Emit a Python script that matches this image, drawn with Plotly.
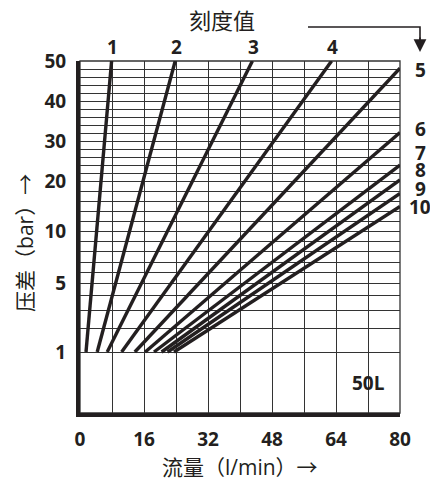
import numpy as np
import plotly.graph_objects as go

# ---- data ----
series_names = ["1", "2", "3", "4", "5", "6", "7", "8", "9", "10"]
start_flow = [1.5, 4.3, 6.8, 10.4, 13.7, 16.3, 18.5, 20.4, 21.9, 23.5]
start_bar = [1, 1, 1, 1, 1, 1, 1, 1, 1, 1]
end_flow = [7.9, 23.8, 43.1, 62.9, 80, 80, 80, 80, 80, 80]
end_bar = [50, 50, 50, 50, 48.2, 32.1, 24.0, 20.3, 17.5, 14.9]

x_tick_vals = [0, 8, 16, 24, 32, 40, 48, 56, 64, 72, 80]
x_tick_labels = ["0", "", "16", "", "32", "", "48", "", "64", "", "80"]
y_grid_vals = [1, 2, 3, 4, 5, 6, 7, 8, 9, 10, 12, 14, 16, 18, 20, 22, 24, 26, 28,
               30, 32, 34, 36, 38, 40, 42, 44, 46, 48, 50]
y_labeled = ["1", "5", "10", "20", "30", "40", "50"]

# chart's own (piecewise) pressure scale
scale_bar = [0, 1, 2, 3, 4, 5, 10, 20, 50]
scale_pos = [0, 61, 85, 103, 118, 130, 182, 232, 352]


def to_scale(v):
    return np.interp(v, scale_bar, scale_pos)


INK = "#231f20"
GRID = "#333333"
NUM_FONT = "Open Sans, Noto Sans CJK SC, sans-serif"
CJK_FONT = "Open Sans, Noto Sans CJK SC, sans-serif"

fig = go.Figure()
for i, name in enumerate(series_names):
    fig.add_trace(go.Scatter(
        x=[start_flow[i], end_flow[i]],
        y=to_scale([start_bar[i], end_bar[i]]),
        mode="lines", line=dict(color=INK, width=3.4),
        name=name, showlegend=False, hoverinfo="skip"))

y_tick_text = [str(v) if str(v) in y_labeled else "" for v in y_grid_vals]

fig.update_layout(
    width=430, height=484,
    margin=dict(l=80, r=30, t=61, b=71, pad=0),
    paper_bgcolor="white", plot_bgcolor="white",
    xaxis=dict(range=[0, 80], tickmode="array", tickvals=x_tick_vals,
               ticktext=x_tick_labels, showgrid=True, gridcolor=GRID,
               gridwidth=1.3, zeroline=False, showline=True, linecolor=INK,
               linewidth=4, ticks="", ticklabelstandoff=6,
               tickfont=dict(family=NUM_FONT, size=19, color=INK, weight=700),
               fixedrange=True),
    yaxis=dict(range=[0, 352], tickmode="array", tickvals=to_scale(y_grid_vals),
               ticktext=y_tick_text, showgrid=True, gridcolor=GRID,
               gridwidth=1.3, zeroline=False, showline=True, linecolor=INK,
               linewidth=4, ticks="", ticklabelstandoff=6,
               tickfont=dict(family=NUM_FONT, size=19, color=INK, weight=700),
               fixedrange=True),
)

# thin top/right frame
fig.add_shape(type="rect", xref="paper", yref="paper", x0=0, x1=1, y0=0, y1=1,
              line=dict(color=GRID, width=1.3), layer="below")

# series labels
for i, name in enumerate(series_names[:4]):
    fig.add_annotation(x=end_flow[i], y=to_scale(end_bar[i]), text=name,
                       showarrow=False, xshift=1, yshift=14,
                       xanchor="center", yanchor="middle",
                       font=dict(family=NUM_FONT, size=19, color=INK, weight=700))
label_nudge = [-2, 3.6, 12.5, 10, 5, -0.5]
for k, i in enumerate(range(4, 10)):
    fig.add_annotation(x=end_flow[i], y=to_scale(end_bar[i]), text=series_names[i],
                       showarrow=False, xshift=20, yshift=label_nudge[k],
                       xanchor="center", yanchor="middle",
                       font=dict(family=NUM_FONT, size=19, color=INK, weight=700))

# titles
fig.add_annotation(xref="paper", yref="paper", x=0.444, y=1.1165, text="刻度值",
                   showarrow=False, xanchor="center", yanchor="middle",
                   font=dict(family=CJK_FONT, size=22, color=INK))
fig.add_annotation(xref="paper", yref="paper", x=0.5, y=-0.1534,
                   text="流量（l/min）→", showarrow=False,
                   xanchor="center", yanchor="middle",
                   font=dict(family=CJK_FONT, size=21, color=INK))
fig.add_annotation(xref="paper", yref="paper", x=-0.172, y=0.483,
                   text="压差（bar）→", showarrow=False, textangle=-90,
                   xanchor="center", yanchor="middle",
                   font=dict(family=CJK_FONT, size=21, color=INK))
fig.add_annotation(xref="paper", yref="paper", x=0.9, y=0.0852, text="50L",
                   showarrow=False, xanchor="center", yanchor="middle",
                   font=dict(family=NUM_FONT, size=19, color=INK, weight=700))

# bracket arrow from title to the right-hand labels
fig.add_shape(type="path", xref="paper", yref="paper",
              path="M 0.7125 1.0966 L 1.0625 1.0966 L 1.0625 1.04",
              line=dict(color=INK, width=1.6))
fig.add_annotation(xref="paper", yref="paper", x=1.0625, y=1.0256, ax=0, ay=-16,
                   text="", showarrow=True, arrowhead=2, arrowsize=1.6,
                   arrowwidth=1.6, arrowcolor=INK)

fig.write_html("out.html", config={"displayModeBar": False},
               post_script="document.body.style.margin='0px';")
